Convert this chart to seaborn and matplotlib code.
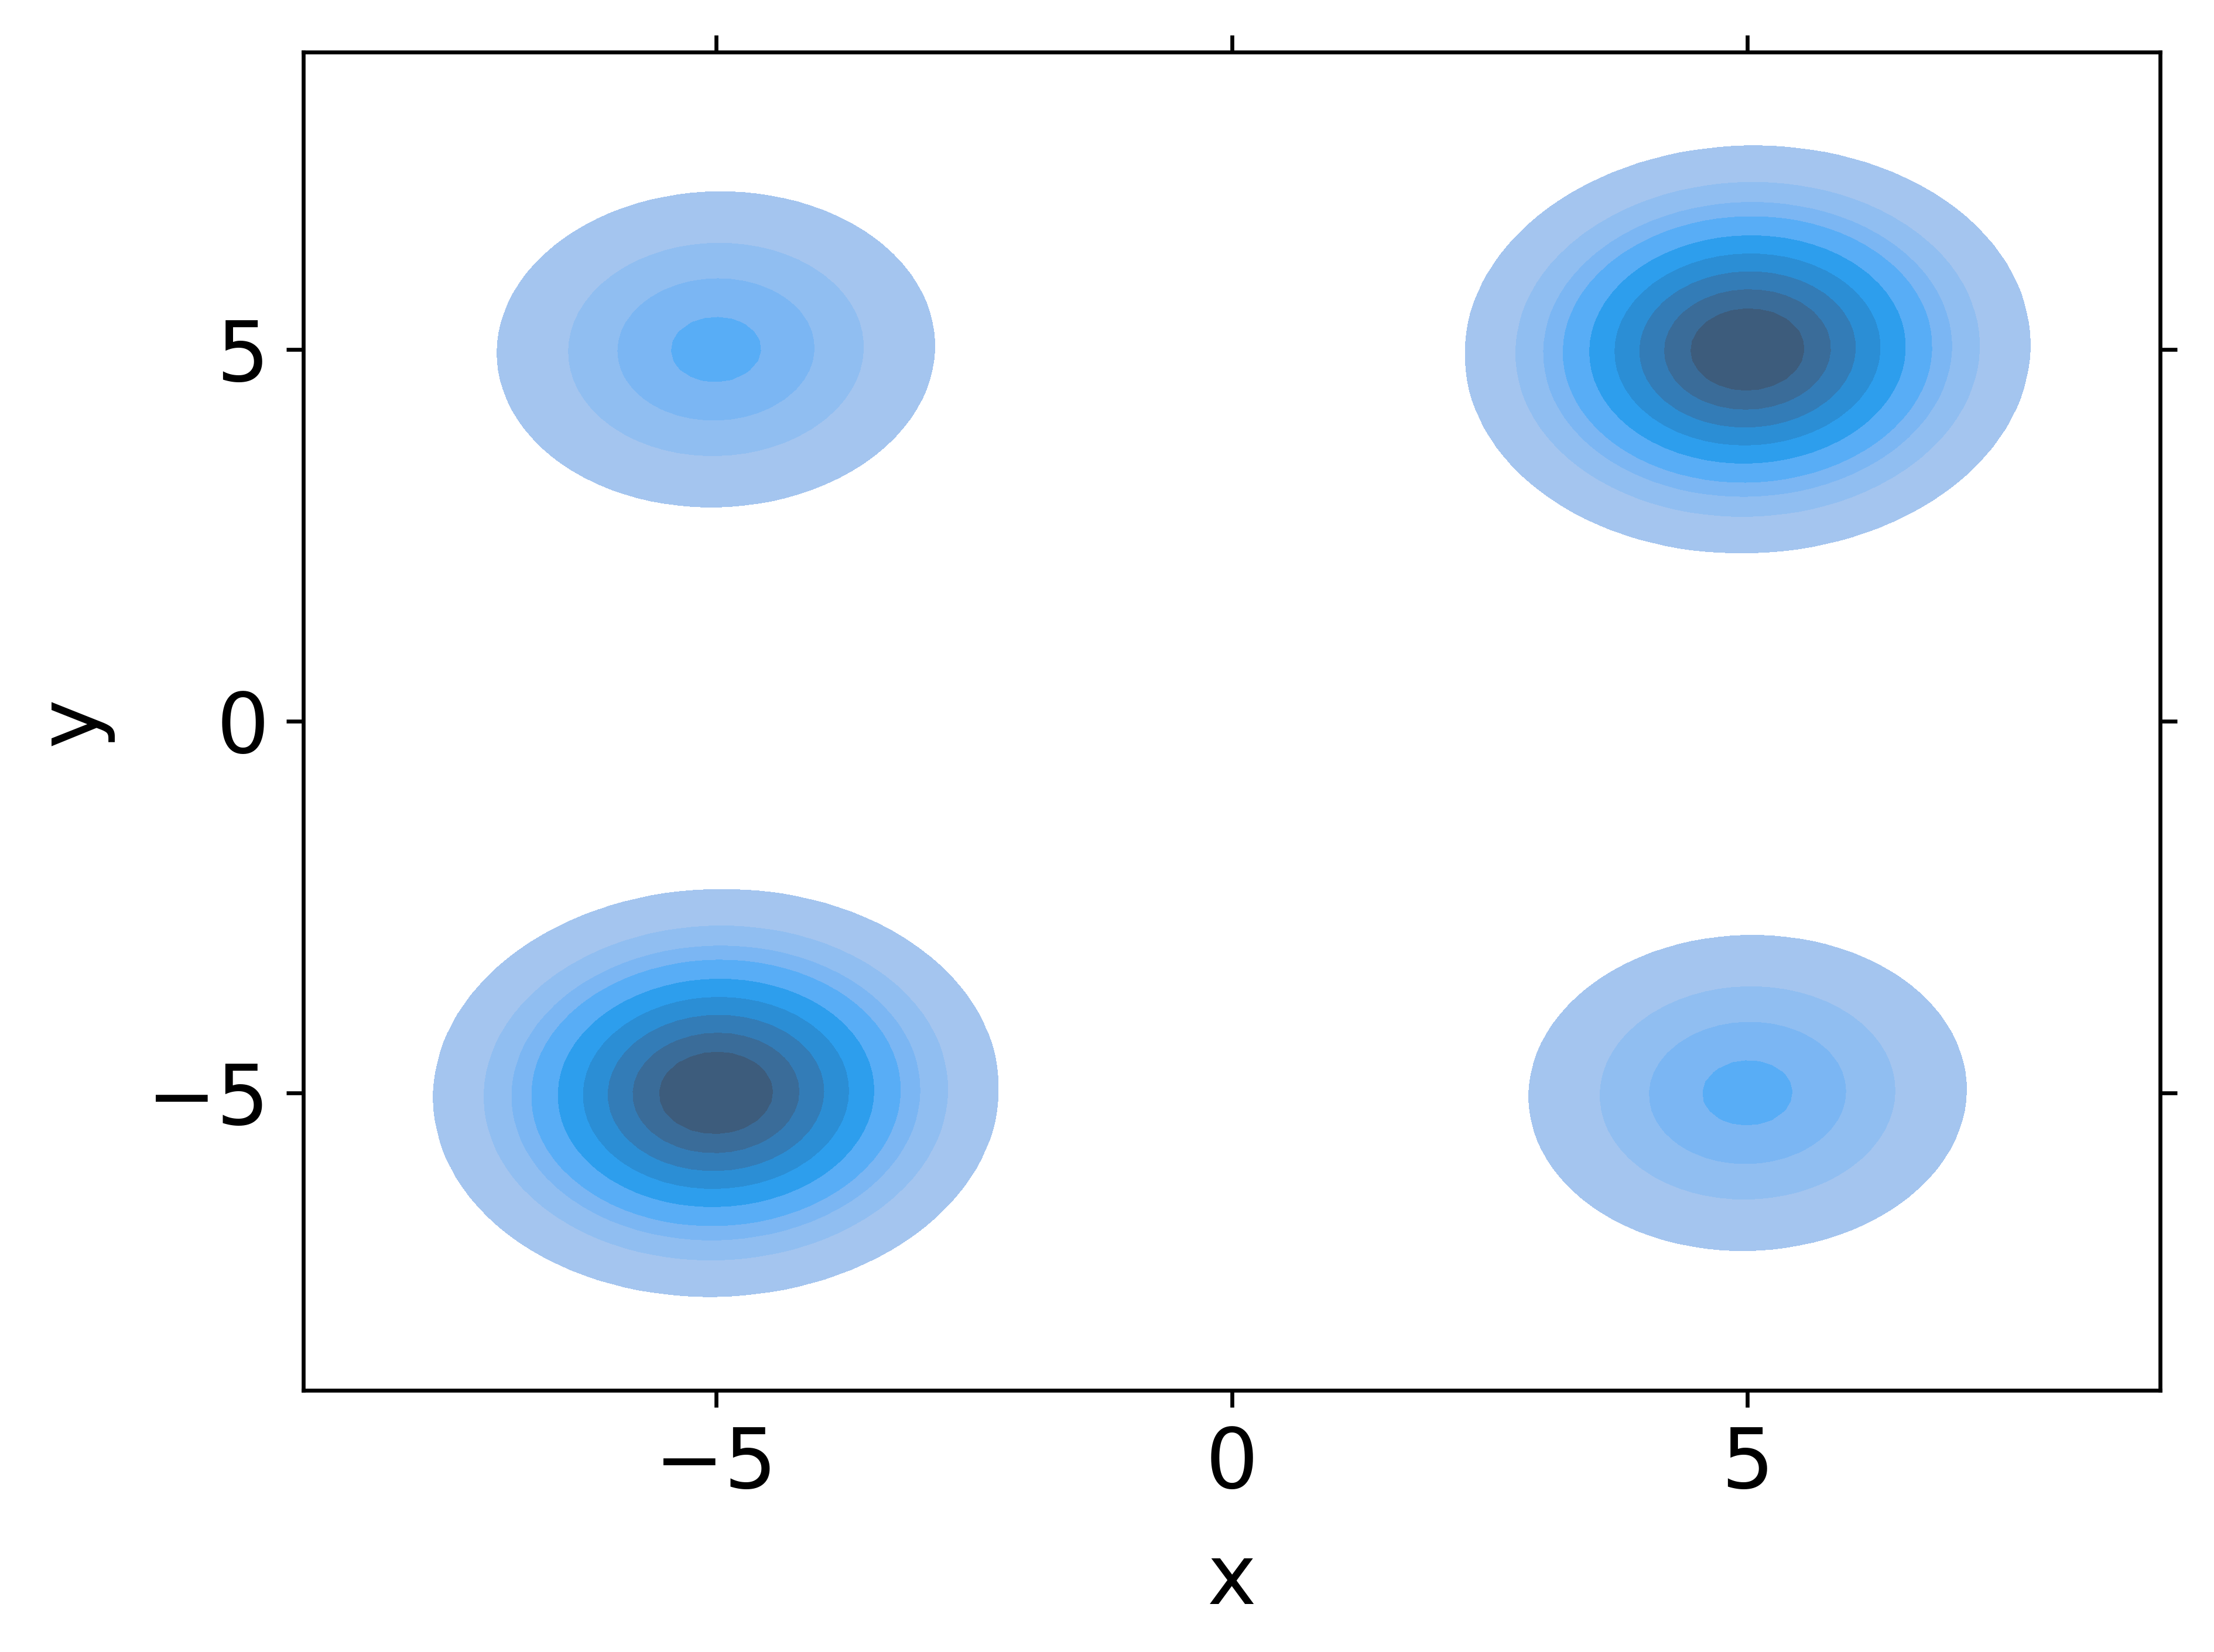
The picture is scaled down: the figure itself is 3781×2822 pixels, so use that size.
"""Filled bivariate KDE of four blobs at the corners of the plane."""

import numpy as np
import matplotlib
import matplotlib.pyplot as plt
import seaborn as sns

matplotlib.use('Agg')

plt.rcParams['font.family'] = ['DejaVu Sans']
plt.rcParams['font.size'] = 17

# Blob centres, spreads and relative sample counts
cluster_x = [-5.0, 5.0, -5.0, 5.0]
cluster_y = [5.0, 5.0, -5.0, -5.0]
cluster_sd = [1.02, 1.02, 1.02, 1.02]
cluster_n = [250, 1000, 1000, 250]

tick_values = [-5, 0, 5]
axis_limits = (-9, 9)

# Weighted support points: each blob's mass spread on a fine grid,
# seaborn then does the smoothing and the iso-proportion levels.
step = 0.15
axis_pts = np.arange(-9.0, 9.0 + step / 2, step)
gx, gy = np.meshgrid(axis_pts, axis_pts)
gx = gx.ravel()
gy = gy.ravel()
weights = np.zeros_like(gx)
for cx, cy, sd, n in zip(cluster_x, cluster_y, cluster_sd, cluster_n):
    r2 = (gx - cx) ** 2 + (gy - cy) ** 2
    weights += n / (2 * np.pi * sd ** 2) * np.exp(-r2 / (2 * sd ** 2))

keep = weights > weights.max() * 1e-6
gx, gy, weights = gx[keep], gy[keep], weights[keep]

fig = plt.figure(figsize=(3781 / 600, 2822 / 600), dpi=600)
ax = fig.add_axes([0.137, 0.1584, 0.8387, 0.8101])

sns.kdeplot(
    x=gx, y=gy, weights=weights,
    fill=True, levels=10, thresh=0.05,
    bw_method=0.04, gridsize=150,
    color='#1f77b4', ax=ax,
)

ax.set_xlim(*axis_limits)
ax.set_ylim(*axis_limits)
ax.set_xticks(tick_values)
ax.set_yticks(tick_values)
ax.set_xlabel('x', labelpad=7)
ax.set_ylabel('y', labelpad=7)
ax.tick_params(top=True, right=True, direction='out')

fig.savefig('out.png', dpi=600)
plt.close(fig)
